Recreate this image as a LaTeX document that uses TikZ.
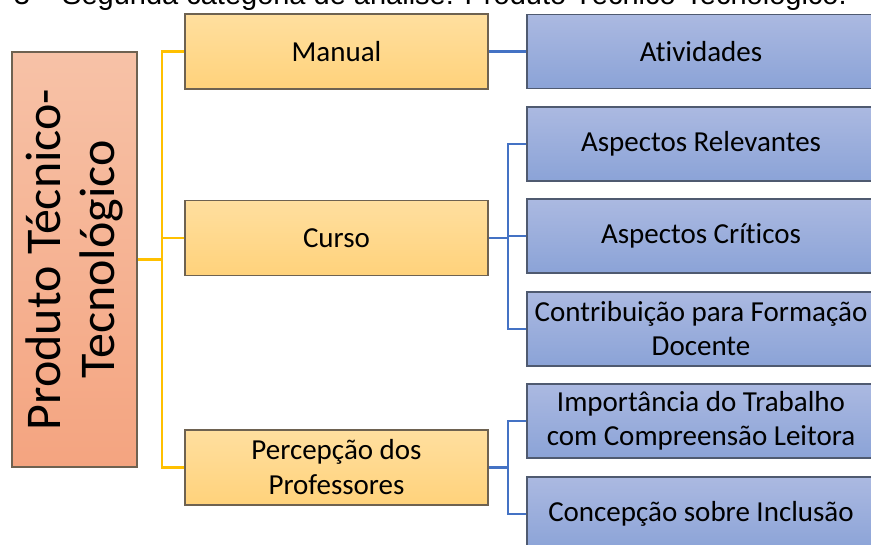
\documentclass[tikz,border=0pt]{standalone}
\usepackage{fontspec}
\usepackage{tikz}
\newfontfamily\boxfont[Ligatures=NoCommon]{Carlito}
\newfontfamily\capfont{Liberation Sans}
\definecolor{salmontop}{HTML}{F7C2A7}
\definecolor{salmonbot}{HTML}{F4A480}
\definecolor{goldtop}{HTML}{FFDF9F}
\definecolor{goldbot}{HTML}{FFD27B}
\definecolor{bluetop}{HTML}{ABB9E1}
\definecolor{bluebot}{HTML}{8BA3D7}
\definecolor{goldline}{HTML}{FFC000}
\definecolor{blueline}{HTML}{4472C4}
\definecolor{warmedge}{HTML}{6E6251}
\definecolor{coldedge}{HTML}{4F5A70}

\begin{document}
\begin{tikzpicture}[x=1pt, y=-1pt,
			      rootbox/.style={rectangle, draw=warmedge, line width=1.3pt, top color=salmontop, bottom color=salmonbot,
				      minimum width=125pt, minimum height=415pt, inner sep=0pt},
			      catbox/.style={rectangle, draw=warmedge, line width=1.3pt, top color=goldtop, bottom color=goldbot,
				      minimum width=303pt, minimum height=75pt, inner sep=2pt, align=center,
				      font=\boxfont\fontsize{29}{35}\selectfont},
			      subbox/.style={rectangle, draw=coldedge, line width=1.3pt, top color=bluetop, bottom color=bluebot,
				      minimum width=348pt, minimum height=74pt, inner sep=2pt, align=center,
				      font=\boxfont\fontsize{29}{34}\selectfont},
			      goldlink/.style={draw=goldline, line width=2.6pt},
			      bluelink/.style={draw=blueline, line width=2.6pt}]
		      \useasboundingbox (0,0) rectangle (871,545);
		      % caption line, cut by the page top
		      \node[anchor=base east, inner sep=0pt, font=\capfont\fontsize{29}{34}\selectfont] (caption) at (847,5)
			      {3 – Segunda categoria de análise: Produto Técnico-Tecnológico.};
		      % root
		      \node[rootbox] (root) at (74.5,259.5) {};
		      \node[rotate=90, align=center, inner sep=0pt, font=\boxfont\fontsize{50}{54}\selectfont] (roottext) at (root.center)
			      {Produto Técnico-\\Tecnológico};
		      % categories
		      \node[catbox] (manual) at (336.5,51.5) {Manual};
		      \node[catbox] (curso) at (336.5,238) {Curso};
		      \node[catbox] (percep) at (336.5,467.5) {Percepção dos\\Professores};
		      % sub items
		      \node[subbox] (ativ) at (701,51.5) {Atividades};
		      \node[subbox] (relev) at (701,144) {Aspectos Relevantes};
		      \node[subbox] (crit) at (701,236) {Aspectos Críticos};
		      \node[subbox] (contrib) at (701,329) {Contribuição para Formação\\Docente};
		      \node[subbox] (import) at (701,421) {Importância do Trabalho\\com Compreensão Leitora};
		      \node[subbox] (concep) at (701,514) {Concepção sobre Inclusão};
		      % connectors
		      \coordinate (gjoint) at (162,259.5);
		      \coordinate (bjointA) at (508,238);
		      \coordinate (bjointB) at (508,467.5);
		      \draw[goldlink] (root.east) -- (gjoint);
		      \draw[goldlink] (manual.west) -| (gjoint) |- (percep.west);
		      \draw[goldlink] (curso.west) -- (curso.west -| gjoint);
		      \draw[bluelink] (manual.east) -- (ativ.west);
		      \draw[bluelink] (curso.east) -- (bjointA);
		      \draw[bluelink] (relev.west) -| (bjointA) |- (contrib.west);
		      \draw[bluelink] (crit.west) -- (crit.west -| bjointA);
		      \draw[bluelink] (percep.east) -- (bjointB);
		      \draw[bluelink] (import.west) -| (bjointB) |- (concep.west);
	      \end{tikzpicture}
\end{document}
